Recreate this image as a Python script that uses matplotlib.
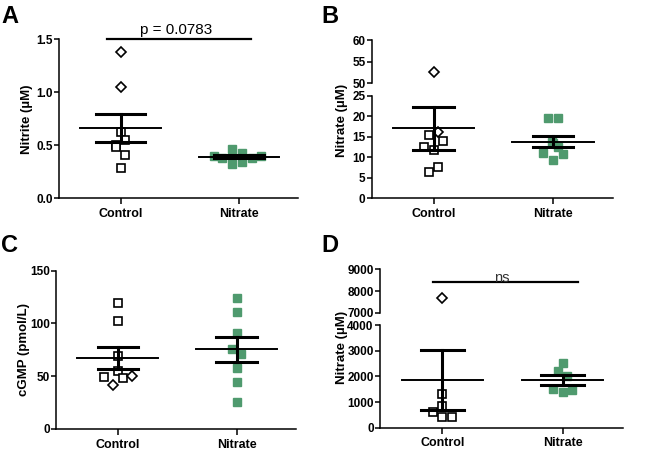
import numpy as np
import matplotlib
matplotlib.use("Agg")
import matplotlib.pyplot as plt

plt.rcParams['font.family'] = ['Liberation Sans', 'DejaVu Sans']

groups = ["Control", "Nitrate"]
green = "#4F9A6E"

# Panel A - Nitrite (uM)
a_ctrl = [1.384, 1.047, 0.623, 0.55, 0.50, 0.487, 0.409, 0.283]
a_ctrl_mk = ['D', 'D', 's', 's', 's', 's', 's', 's']
a_ctrl_dx = [0, 0, 0, 0.04, -0.04, -0.04, 0.04, 0]
a_nitr = [0.462, 0.430, 0.399, 0.377, 0.377, 0.402, 0.324, 0.345]
a_nitr_dx = [-0.06, 0.03, -0.21, -0.14, 0.11, 0.19, -0.06, 0.03]
a_mean = [0.664, 0.393]
a_sem = [0.134, 0.012]

# Panel B - Nitrate (uM), broken axis
b_ctrl = [52.5, 16.2, 15.5, 13.9, 12.5, 11.85, 7.6, 6.4]
b_ctrl_mk = ['D', 'D', 's', 's', 's', 's', 's', 's']
b_ctrl_dx = [0, 0.04, -0.04, 0.08, -0.08, 0, 0.04, -0.04]
b_nitr = [19.6, 19.5, 13.6, 13.4, 12.4, 11.0, 10.8, 9.3]
b_nitr_dx = [-0.04, 0.04, -0.01, 0.0, 0.04, -0.08, 0.08, 0.0]
b_mean = [17.07, 13.8]
b_sem = [5.25, 1.38]

# Panel C - cGMP (pmol/L)
c_ctrl = [119.4, 102.7, 69.2, 55.0, 49.3, 48.0, 41.7, 50.2]
c_ctrl_mk = ['s', 's', 's', 's', 's', 's', 'D', 'D']
c_ctrl_dx = [0, 0, 0, 0, -0.12, 0.04, -0.04, 0.12]
c_nitr = [123.9, 111.2, 90.7, 75.8, 71.1, 58.1, 44.8, 25.9]
c_nitr_dx = [0, 0, 0, -0.04, 0.04, 0, 0, 0]
c_mean = [67.3, 75.5]
c_sem = [10.2, 11.7]

# Panel D - Nitrate (uM), broken axis
d_ctrl = [7688, 1300, 856, 599, 416, 428]
d_ctrl_mk = ['D', 's', 's', 's', 's', 's']
d_ctrl_dx = [0, 0, 0, -0.08, 0, 0.08]
d_nitr = [2529, 2206, 2012, 1506, 1377, 1455]
d_nitr_dx = [0, -0.04, 0.04, -0.08, 0, 0.08]
d_mean = [1868, 1856]
d_sem = [1167, 195]

fig = plt.figure(figsize=(6.59, 4.59), dpi=100)


def style_axis(ax, bottom=True):
    for s in ['top', 'right']:
        ax.spines[s].set_visible(False)
    ax.spines['left'].set_linewidth(1.1)
    ax.spines['bottom'].set_linewidth(1.1)
    ax.tick_params(axis='y', length=3.5, width=1.1, pad=1, labelsize=8.5)
    ax.tick_params(axis='x', length=4, width=1.1, pad=3, labelsize=9)
    for lab in ax.get_yticklabels() + ax.get_xticklabels():
        lab.set_fontweight('bold')
    ax.set_xlim(-0.52, 1.5)
    if not bottom:
        ax.spines['bottom'].set_visible(False)
        ax.set_xticks([])
    else:
        ax.set_xticks([0, 1])
        ax.set_xticklabels(groups, fontweight='bold', fontsize=9)


def draw_group(ax, ctrl, ctrl_mk, ctrl_dx, nitr, nitr_dx, mean, sem, cap=0.19):
    for v, m, dx in zip(ctrl, ctrl_mk, ctrl_dx):
        ms = 5.4 if m == 's' else 5.0
        ax.plot(0 + dx, v, marker=m, ms=ms, mfc='white', mec='black', mew=1.2,
                ls='none', zorder=2)
    ax.plot(np.array(nitr_dx) + 1, nitr, marker='s', ms=5.6, color=green,
            mec=green, ls='none', zorder=2)
    for i in range(2):
        ax.plot([i - 0.34, i + 0.34], [mean[i], mean[i]], color='black', lw=1.4, zorder=3)
        ax.plot([i, i], [mean[i] - sem[i], mean[i] + sem[i]], color='black', lw=2.2, zorder=3)
        for e in (mean[i] - sem[i], mean[i] + sem[i]):
            ax.plot([i - cap, i + cap], [e, e], color='black', lw=2.2, zorder=3)


# ---- A ----
axA = fig.add_axes([0.0895, 0.568, 0.3627, 0.3464])
draw_group(axA, a_ctrl, a_ctrl_mk, a_ctrl_dx, a_nitr, a_nitr_dx, a_mean, a_sem, cap=0.21)
axA.set_ylim(0, 1.5)
axA.set_yticks([0, 0.5, 1.0, 1.5])
axA.set_yticklabels(['0.0', '0.5', '1.0', '1.5'])
style_axis(axA)
axA.set_ylabel('Nitrite (µM)', fontsize=9.5, fontweight='bold')
axA.yaxis.set_label_coords(-0.11, 0.5)
axA.plot([-0.11, 1.1], [1.5, 1.5], color='black', lw=1.6, clip_on=False)
axA.text(0.47, 1.52, 'p = 0.0783', ha='center', va='bottom', fontsize=11)

# ---- B ----
axB = fig.add_axes([0.564, 0.568, 0.3657, 0.2235])
axB2 = fig.add_axes([0.564, 0.8185, 0.3657, 0.0943])
for ax in (axB, axB2):
    draw_group(ax, b_ctrl, b_ctrl_mk, b_ctrl_dx, b_nitr, b_nitr_dx, b_mean, b_sem, cap=0.17)
axB.set_ylim(0, 25)
axB.set_yticks([0, 5, 10, 15, 20, 25])
axB2.set_ylim(50, 60)
axB2.set_yticks([50, 55, 60])
style_axis(axB)
style_axis(axB2, bottom=False)
axB.set_ylabel('Nitrate (µM)', fontsize=9.5, fontweight='bold')
axB.yaxis.set_label_coords(-0.1, 0.76)

# ---- C ----
axC = fig.add_axes([0.085, 0.0654, 0.3642, 0.3449])
draw_group(axC, c_ctrl, c_ctrl_mk, c_ctrl_dx, c_nitr, c_nitr_dx, c_mean, c_sem, cap=0.17)
axC.set_ylim(0, 150)
axC.set_yticks([0, 50, 100, 150])
style_axis(axC)
axC.set_ylabel('cGMP (pmol/L)', fontsize=9.5, fontweight='bold')
axC.yaxis.set_label_coords(-0.11, 0.5)

# ---- D ----
axD = fig.add_axes([0.5766, 0.0682, 0.3683, 0.2237])
axD2 = fig.add_axes([0.5766, 0.3181, 0.3683, 0.0952])
for ax in (axD, axD2):
    draw_group(ax, d_ctrl, d_ctrl_mk, d_ctrl_dx, d_nitr, d_nitr_dx, d_mean, d_sem, cap=0.18)
axD.set_ylim(0, 4000)
axD.set_yticks([0, 1000, 2000, 3000, 4000])
axD2.set_ylim(7000, 9000)
axD2.set_yticks([7000, 8000, 9000])
style_axis(axD)
style_axis(axD2, bottom=False)
axD.set_ylabel('Nitrate (µM)', fontsize=9.5, fontweight='bold')
axD.yaxis.set_label_coords(-0.13, 0.78)
axD2.plot([-0.08, 1.126], [8408, 8408], color='black', lw=1.6)
axD2.text(0.49, 8300, 'ns', ha='center', va='bottom', fontsize=10.5, color='#333333')

# panel letters
for lbl, x, y in [('A', 0.002, 0.99), ('B', 0.487, 0.99),
                  ('C', 0.002, 0.49), ('D', 0.487, 0.49)]:
    fig.text(x, y, lbl, fontsize=17, fontweight='bold', va='top', ha='left')

fig.savefig('out.png', dpi=100)
